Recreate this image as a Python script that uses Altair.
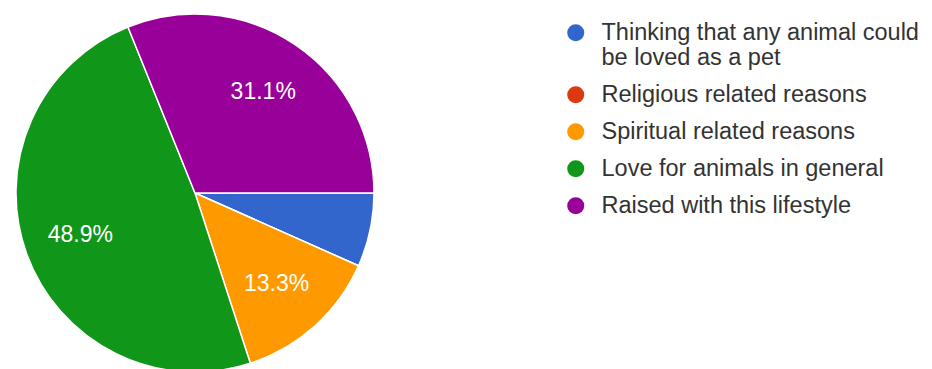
import math
import altair as alt
import pandas as pd

categories = [
    "Thinking that any animal could be loved as a pet",
    "Religious related reasons",
    "Spiritual related reasons",
    "Love for animals in general",
    "Raised with this lifestyle",
]
counts = [3, 0, 6, 22, 14]
colors = ["#3366cc", "#dc3912", "#ff9900", "#109618", "#990099"]

df = pd.DataFrame({"category": categories, "count": counts, "idx": list(range(len(categories)))})

CX, CY, R = 195, 193, 179

base = alt.Chart(df).transform_joinaggregate(
    total="sum(count)"
).transform_calculate(
    pct="datum.count / datum.total",
    label="datum.count / datum.total >= 0.1 ? format(datum.count / datum.total, '.1%') : ''",
).encode(
    theta=alt.Theta("count:Q", stack=True,
                    scale=alt.Scale(range=[math.pi / 2, math.pi / 2 + 2 * math.pi])),
    order=alt.Order("idx:Q"),
)

label_expr = ("datum.label == 'Thinking that any animal could be loved as a pet' ? "
              "['Thinking that any animal could', 'be loved as a pet'] : datum.label")

pie = base.mark_arc(stroke="white", strokeWidth=1.5).encode(
    x=alt.value(CX),
    y=alt.value(CY),
    radius=alt.value(R),
    color=alt.Color(
        "category:N",
        sort=categories,
        scale=alt.Scale(domain=categories, range=colors),
        legend=alt.Legend(
            title=None,
            orient="none",
            legendX=564,
            legendY=21,
            symbolType="circle",
            symbolSize=290,
            symbolStrokeWidth=0,
            labelFont="Liberation Sans",
            labelFontSize=23.5,
            labelColor="#333333",
            labelOffset=14,
            labelLimit=400,
            labelExpr=label_expr,
            rowPadding=12,
            padding=0,
        ),
    ),
)

text = base.mark_text(
    font="Liberation Sans", fontSize=23, color="white", align="center", baseline="middle"
).encode(
    x=alt.value(CX),
    y=alt.value(CY),
    radius=alt.value(122),
    text="label:N",
)

chart = alt.layer(pie, text).properties(
    width=932, height=369, autosize=alt.AutoSizeParams(type="none"), padding=0,
).configure_view(stroke=None)

chart.save("out.html", embed_options={"renderer": "svg", "actions": False})
